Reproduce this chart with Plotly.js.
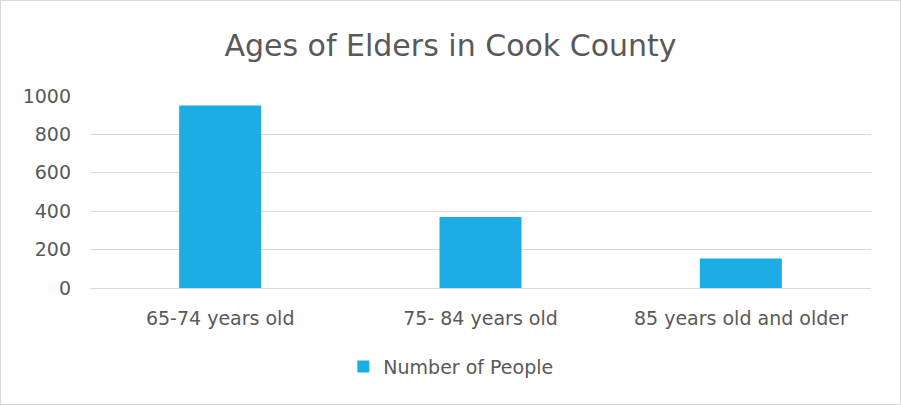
<!DOCTYPE html>
<html><head><meta charset="utf-8">
<script src="https://cdn.plot.ly/plotly-3.0.1.min.js"></script>
<style>
html,body{margin:0;padding:0;background:#fff;}
#wrap{position:relative;width:901px;height:405px;}
#chart{width:901px;height:405px;}
#border{position:absolute;left:0;top:0;width:899px;height:403px;border:1px solid #D9D9D9;pointer-events:none;}
</style></head>
<body><div id="wrap"><div id="chart"></div><div id="border"></div></div>
<script>
const categories = ["65-74 years old", "75- 84 years old", "85 years old and older"];
const values = [950, 370, 153];
const seriesName = "Number of People";
const tickVals = [0, 200, 400, 600, 800, 1000];

const fontFam = "DejaVu Sans, sans-serif";
Plotly.newPlot("chart", [{
  type: "bar", x: categories, y: values, name: seriesName,
  marker: {color: "#1CADE4"}, showlegend: true
}], {
  width: 901, height: 405,
  margin: {l: 90, r: 30, t: 96, b: 117},
  paper_bgcolor: "#fff", plot_bgcolor: "#fff",
  bargap: 0.685,
  title: {text: "Ages of Elders in Cook County", font: {family: fontFam, size: 30, color: "#595959"}, x: 0.5, xanchor: "center", y: 0.888, yanchor: "middle"},
  font: {family: fontFam, color: "#595959", size: 19},
  xaxis: {showgrid: false, showline: false, zeroline: false, ticks: "", ticklabelstandoff: 17, tickfont: {size: 19, color: "#595959"}},
  yaxis: {range: [0, 1000], tickvals: tickVals, gridcolor: "#D9D9D9", gridwidth: 1, zeroline: true, zerolinecolor: "#D9D9D9", zerolinewidth: 1, showline: false, ticks: "", ticklabelstandoff: 18, tickfont: {size: 19, color: "#595959"}},
  legend: {orientation: "h", x: 0.462, xanchor: "center", y: -0.41, yanchor: "middle", font: {size: 19, color: "#595959"}, itemwidth: 30}
}, {displayModeBar: false, staticPlot: true});
</script></body></html>
